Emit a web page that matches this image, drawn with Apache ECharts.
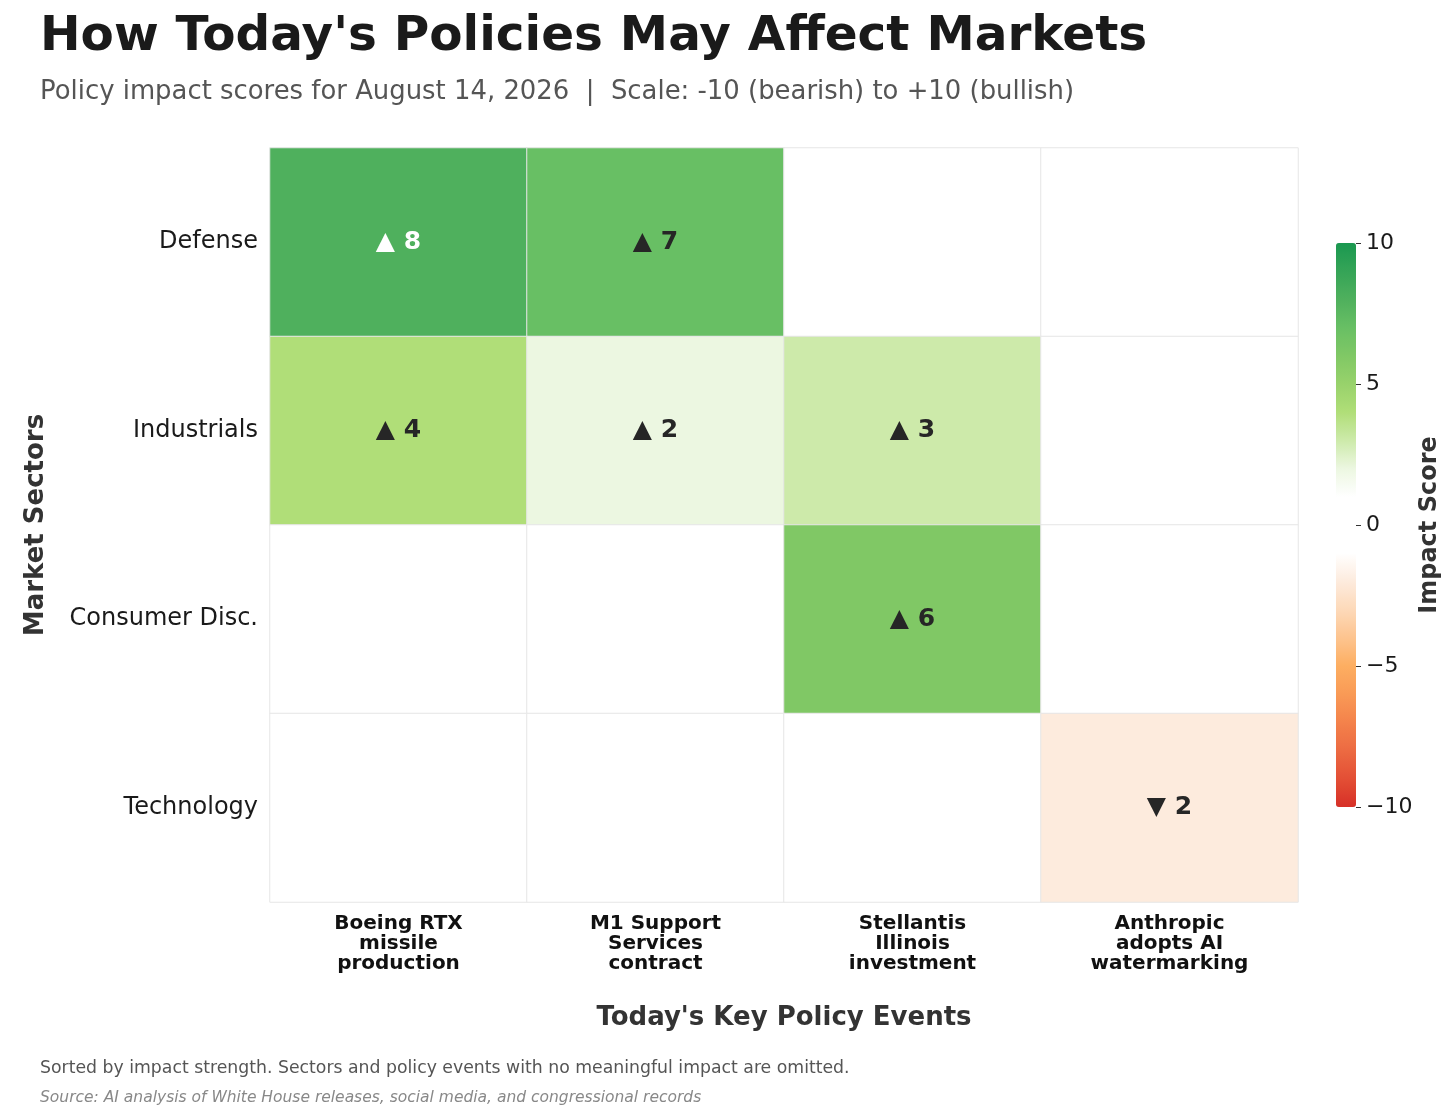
<!DOCTYPE html>
<html lang="en">
<head>
    <meta charset="UTF-8">
    <title>How Today's Policies May Affect Markets</title>
    <script src="https://cdn.jsdelivr.net/npm/echarts@6/dist/echarts.min.js"></script>
    <style>
        html, body { margin: 0; padding: 0; background: #fff; }
        #chart { width: 1456px; height: 1117px; }
    </style>
</head>
<body>
<div id="chart"></div>
<script type="text/javascript">
    // 数据
    var events = ['Boeing RTX\nmissile\nproduction', 'M1 Support\nServices\ncontract',
        'Stellantis\nIllinois\ninvestment', 'Anthropic\nadopts AI\nwatermarking'];
    var sectors = ['Defense', 'Industrials', 'Consumer Disc.', 'Technology'];
    var defenseScores = [8, 7, 0, 0];
    var industrialsScores = [4, 2, 3, 0];
    var consumerScores = [0, 0, 6, 0];
    var technologyScores = [0, 0, 0, -2];
    var colorTicks = [-10, -5, 0, 5, 10];

    // 颜色 (-10 ... 10, 每格 1 分)
    var scaleColors = ['#d73027', '#e34f35', '#ec6a42', '#f4824b', '#f99a56', '#fdae61',
        '#fdc48f', '#fdd9b9', '#fdebdd', '#ffffff', '#ffffff', '#ffffff',
        '#ecf7e1', '#cdeaaa', '#b0de78', '#98d26b', '#80c865', '#68bf64', '#4fb05d', '#35a457', '#1a9850'];

    var font = 'DejaVu Sans';
    var rows = [defenseScores, industrialsScores, consumerScores, technologyScores];
    var cells = [];
    for (var r = 0; r < rows.length; r++) {
        for (var c = 0; c < rows[r].length; c++) {
            cells.push([c, r, rows[r][c]]);
        }
    }

    var myChart = echarts.init(document.getElementById('chart'));

    var option = {
        backgroundColor: '#ffffff',
        textStyle: { fontFamily: font },
        title: [{
            text: "How Today's Policies May Affect Markets",
            left: 40, top: 13, padding: 0,
            textStyle: { fontFamily: font, fontSize: 48.5, fontWeight: 'bold', color: '#1a1a1a' }
        }, {
            text: 'Policy impact scores for August 14, 2026  |  Scale: -10 (bearish) to +10 (bullish)',
            left: 40, top: 79, padding: 0,
            textStyle: { fontFamily: font, fontSize: 25.9, fontWeight: 'normal', color: '#555555' }
        }, {
            text: 'Sorted by impact strength. Sectors and policy events with no meaningful impact are omitted.',
            left: 40, top: 1060, padding: 0,
            textStyle: { fontFamily: font, fontSize: 17.3, fontWeight: 'normal', color: '#555555' }
        }, {
            text: 'Source: AI analysis of White House releases, social media, and congressional records',
            left: 40, top: 1090, padding: 0,
            textStyle: { fontFamily: font, fontSize: 15.5, fontWeight: 'normal', fontStyle: 'italic', color: '#888888' }
        }],
        grid: [{
            left: 270, right: 158, top: 148, bottom: 215
        }, {
            // colorbar 刻度
            left: 1336, width: 20, top: 243, height: 564
        }],
        xAxis: [{
            type: 'category',
            gridIndex: 0,
            data: events,
            axisLine: { show: false },
            axisTick: { show: false },
            splitArea: { show: false },
            axisLabel: {
                margin: 12,
                fontFamily: font, fontSize: 20, fontWeight: 'bold', color: '#111',
                lineHeight: 20, align: 'center'
            },
            name: "Today's Key Policy Events",
            nameLocation: 'middle',
            nameGap: 103,
            nameTextStyle: { fontFamily: font, fontSize: 26, fontWeight: 'bold', color: '#333' }
        }, {
            type: 'value', gridIndex: 1, show: false
        }],
        yAxis: [{
            type: 'category',
            gridIndex: 0,
            data: sectors,
            inverse: true,
            axisLine: { show: false },
            axisTick: { show: false },
            splitArea: { show: false },
            axisLabel: { margin: 12, padding: [6, 0, 0, 0], fontFamily: font, fontSize: 24, color: '#1a1a1a' },
            name: 'Market Sectors',
            nameLocation: 'middle',
            nameRotate: 90,
            nameGap: 221,
            nameTextStyle: { fontFamily: font, fontSize: 26, fontWeight: 'bold', color: '#333' }
        }, {
            type: 'value',
            gridIndex: 1,
            position: 'right',
            min: -10, max: 10, interval: 5,
            axisLine: { show: false, onZero: false },
            axisTick: { show: true, length: 5, lineStyle: { color: '#333' } },
            splitLine: { show: false },
            axisLabel: {
                margin: 10, fontFamily: font, fontSize: 22, color: '#1a1a1a',
                formatter: function (v) { return colorTicks.indexOf(v) >= 0 ? String(v).replace('-', '\u2212') : ''; }
            },
            name: 'Impact Score',
            nameLocation: 'middle',
            nameRotate: 90,
            nameGap: 62,
            nameTextStyle: { fontFamily: font, fontSize: 24, fontWeight: 'bold', color: '#333' }
        }],
        visualMap: {
            type: 'continuous',
            min: -10, max: 10,
            calculable: false,
            hoverLink: false,
            show: true,
            seriesIndex: 0,
            orient: 'vertical',
            left: 1336, top: 243,
            itemWidth: 20, itemHeight: 564,
            padding: 0,
            text: null,
            showLabel: false,
            inRange: { color: scaleColors }
        },
        series: [{
            type: 'heatmap',
            xAxisIndex: 0, yAxisIndex: 0,
            data: cells,
            itemStyle: { borderColor: '#e6e6e6', borderWidth: 1 },
            emphasis: { disabled: true },
            label: {
                show: true,
                formatter: function (p) {
                    var v = p.value[2];
                    if (v === 0) return '';
                    var s = (v > 0 ? '\u25B2 ' : '\u25BC ') + Math.abs(v);
                    return Math.abs(v) >= 8 ? '{w|' + s + '}' : '{d|' + s + '}';
                },
                rich: {
                    w: { fontFamily: font, fontSize: 25, fontWeight: 'bold', color: '#ffffff' },
                    d: { fontFamily: font, fontSize: 25, fontWeight: 'bold', color: '#262626' }
                }
            }
        }]
    };

    myChart.setOption(option);
</script>
</body>
</html>
